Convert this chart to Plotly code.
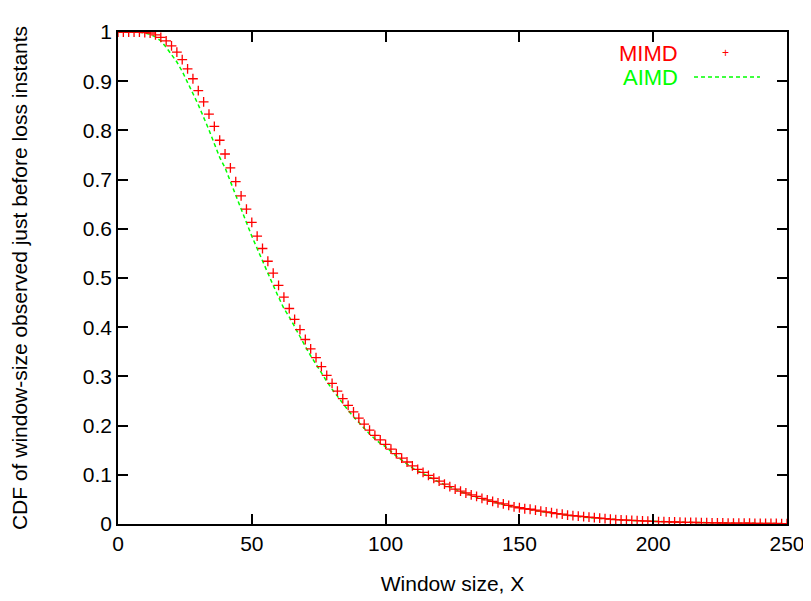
import plotly.graph_objects as go

# Window sizes (x grid, step 2)
window_x = list(range(0, 252, 2))

mimd_cdf = [
    1.0, 1.0, 1.0, 1.0, 1.0, 0.999, 0.998, 0.994, 0.989, 0.982,
    0.972, 0.959, 0.944, 0.925, 0.905, 0.881, 0.858, 0.833, 0.808, 0.780,
    0.752, 0.724, 0.696, 0.667, 0.640, 0.613, 0.585, 0.560, 0.534, 0.510,
    0.485, 0.461, 0.438, 0.416, 0.395, 0.375, 0.356, 0.338, 0.320, 0.302,
    0.286, 0.270, 0.255, 0.241, 0.228, 0.215, 0.203, 0.191, 0.180, 0.171,
    0.162, 0.152, 0.143, 0.134, 0.126, 0.118, 0.111, 0.105, 0.099, 0.093,
    0.087, 0.081, 0.076, 0.071, 0.067, 0.063, 0.059, 0.056, 0.052, 0.049,
    0.046, 0.043, 0.041, 0.038, 0.035, 0.033, 0.031, 0.030, 0.028, 0.026,
    0.0245, 0.023, 0.021, 0.020, 0.018, 0.017, 0.016, 0.015, 0.014, 0.013,
    0.012, 0.011, 0.010, 0.009, 0.0085, 0.008, 0.0075, 0.007, 0.0065, 0.006,
    0.0055, 0.005, 0.0047, 0.0044, 0.0041, 0.0038, 0.0035, 0.0032, 0.003, 0.0028,
    0.0026, 0.0024, 0.0022, 0.002, 0.0019, 0.0018, 0.0017, 0.0016, 0.0015, 0.0014,
    0.0013, 0.0012, 0.0011, 0.001, 0.0009, 0.0008,
]

aimd_cdf = [
    1.0, 1.0, 1.0, 1.0, 1.0, 0.998, 0.995, 0.990, 0.982, 0.969,
    0.955, 0.939, 0.920, 0.899, 0.875, 0.852, 0.827, 0.801, 0.773, 0.745,
    0.724, 0.696, 0.667, 0.640, 0.613, 0.585, 0.560, 0.534, 0.510, 0.485,
    0.461, 0.438, 0.421, 0.400, 0.380, 0.361, 0.342, 0.324, 0.307, 0.290,
    0.274, 0.259, 0.244, 0.231, 0.218, 0.206, 0.194, 0.183, 0.173, 0.164,
    0.157, 0.147, 0.138, 0.130, 0.122, 0.114, 0.108, 0.102, 0.097, 0.091,
    0.085, 0.080, 0.075, 0.070, 0.066, 0.062, 0.058, 0.055, 0.051, 0.048,
    0.045, 0.042, 0.040, 0.037, 0.035, 0.033, 0.031, 0.029, 0.027, 0.026,
    0.024, 0.022, 0.021, 0.019, 0.018, 0.017, 0.015, 0.014, 0.013, 0.012,
    0.011, 0.010, 0.0095, 0.009, 0.0082, 0.0076, 0.007, 0.0065, 0.006, 0.0056,
    0.0052, 0.0048, 0.0045, 0.0042, 0.0039, 0.0036, 0.0033, 0.0031, 0.0029, 0.0027,
    0.0025, 0.0023, 0.0021, 0.0019, 0.0018, 0.0017, 0.0016, 0.0015, 0.0014, 0.0013,
    0.0012, 0.0011, 0.001, 0.0009, 0.0008, 0.0007,
]

x_ticks = [0, 50, 100, 150, 200, 250]
y_ticks = [0, 0.1, 0.2, 0.3, 0.4, 0.5, 0.6, 0.7, 0.8, 0.9, 1]
y_tick_text = ["0", "0.1", "0.2", "0.3", "0.4", "0.5", "0.6", "0.7", "0.8", "0.9", "1"]

FONT = "Liberation Sans, Arial, Helvetica, sans-serif"
GREEN = "#00ff00"
RED = "#ff0000"

fig = go.Figure()
fig.add_trace(go.Scatter(
    x=window_x, y=aimd_cdf, mode="lines", name="AIMD",
    line=dict(color=GREEN, width=1.5, dash="4px,3px"),
))
fig.add_trace(go.Scatter(
    x=window_x, y=mimd_cdf, mode="markers", name="MIMD",
    marker=dict(symbol="cross-thin", size=7, color=RED,
                line=dict(color=RED, width=1.3)),
))

axis_common = dict(
    showline=True, linecolor="black", linewidth=1.5, mirror="ticks",
    ticks="inside", ticklen=10, tickwidth=1.5, tickcolor="black",
    showgrid=False, zeroline=False,
    tickfont=dict(family=FONT, size=21, color="black"),
)

fig.update_xaxes(range=[0, 250], tickvals=x_ticks,
                 title=dict(text="Window size, X", font=dict(family=FONT, size=21, color="black"), standoff=22),
                 **axis_common)
fig.update_yaxes(range=[0, 1], tickvals=y_ticks, ticktext=y_tick_text,
                 title=dict(text="CDF of window-size observed just before loss instants",
                            font=dict(family=FONT, size=21, color="black"), standoff=53),
                 **axis_common)

# Legend key (gnuplot-style: text then sample)
fig.add_annotation(xref="paper", yref="paper", x=0.840, y=0.957, xanchor="right", yanchor="middle",
                   text="MIMD", showarrow=False, font=dict(family=FONT, size=22, color=RED))
fig.add_annotation(xref="paper", yref="paper", x=0.840, y=0.9085, xanchor="right", yanchor="middle",
                   text="AIMD", showarrow=False, font=dict(family=FONT, size=22, color=GREEN))
fig.add_annotation(xref="paper", yref="paper", x=0.9088, y=0.957, xanchor="center", yanchor="middle",
                   text="+", showarrow=False, font=dict(family=FONT, size=12, color=RED))
fig.add_shape(type="line", xref="paper", yref="paper", x0=0.861, x1=0.9596, y0=0.9085, y1=0.9085,
              line=dict(color=GREEN, width=1.5, dash="4px,3px"))

# page body has an 8px margin: offset the figure accordingly
fig.update_layout(
    width=803, height=593,
    margin=dict(l=110, r=24, t=24, b=77, autoexpand=False),
    plot_bgcolor="white", paper_bgcolor="white",
    showlegend=False,
    font=dict(family=FONT, size=21, color="black"),
)

fig.write_html("out.html")
